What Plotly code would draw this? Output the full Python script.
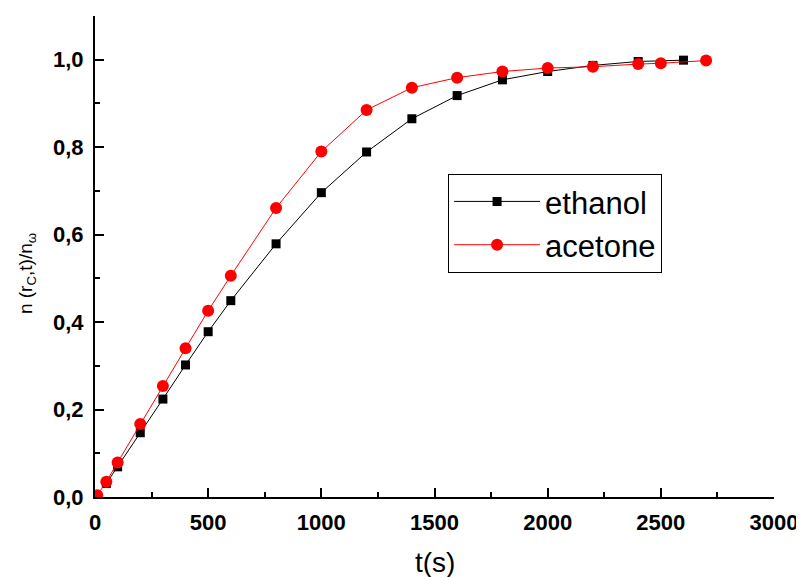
import plotly.graph_objects as go

# data
ethanol_t = [50, 100, 200, 300, 400, 500, 600, 800, 1000, 1200, 1400, 1600, 1800, 2000, 2200, 2400, 2600]
ethanol_n = [0.031, 0.069, 0.147, 0.224, 0.302, 0.378, 0.449, 0.579, 0.696, 0.789, 0.865, 0.918, 0.954, 0.973, 0.987, 0.996, 0.999]
acetone_t = [10, 50, 100, 200, 300, 400, 500, 600, 800, 1000, 1200, 1400, 1600, 1800, 2000, 2200, 2400, 2500, 2700]
acetone_n = [0.004, 0.035, 0.079, 0.167, 0.254, 0.340, 0.426, 0.506, 0.661, 0.790, 0.885, 0.936, 0.959, 0.973, 0.981, 0.984, 0.990, 0.992, 0.998]

x_ticks = [0, 500, 1000, 1500, 2000, 2500, 3000]
y_ticks = [0.0, 0.2, 0.4, 0.6, 0.8, 1.0]

FONT = "Liberation Sans, Arial, sans-serif"

fig = go.Figure()
fig.add_trace(go.Scatter(x=ethanol_t, y=ethanol_n, mode="lines+markers", name="ethanol",
                         line=dict(color="black", width=1),
                         marker=dict(symbol="square", size=9, color="black")))
fig.add_trace(go.Scatter(x=acetone_t, y=acetone_n, mode="lines+markers", name="acetone",
                         line=dict(color="red", width=1),
                         marker=dict(symbol="circle", size=12, color="red")))

# page body has an 8px margin, so the figure is shifted by (8, 8)
fig.update_layout(
    width=796, height=569,
    margin=dict(l=87, r=30, t=8, b=80),
    paper_bgcolor="white", plot_bgcolor="white",
    showlegend=True,
    legend=dict(x=0.52, y=0.672, xanchor="left", yanchor="top",
                bordercolor="black", borderwidth=1, bgcolor="white",
                font=dict(family=FONT, size=31, color="black"),
                tracegroupgap=0, itemwidth=86),
    font=dict(family=FONT, color="black"),
)
fig.update_xaxes(
    range=[0, 3000], tickvals=x_ticks, ticktext=[str(v) for v in x_ticks],
    automargin=False,
    showline=True, linecolor="black", linewidth=2, showgrid=False, zeroline=False,
    ticks="inside", ticklen=9, tickwidth=2, tickcolor="black",
    minor=dict(dtick=250, ticks="inside", ticklen=5, tickwidth=2, tickcolor="black"),
    tickfont=dict(family=FONT, size=22, color="black", weight="bold"),
    ticklabelstandoff=5,
)
fig.update_yaxes(
    range=[0, 1.1], tickvals=y_ticks, ticktext=[f"{v:.1f}".replace(".", ",") for v in y_ticks],
    automargin=False,
    showline=True, linecolor="black", linewidth=2, showgrid=False, zeroline=False,
    ticks="inside", ticklen=9, tickwidth=2, tickcolor="black",
    minor=dict(dtick=0.1, ticks="inside", ticklen=5, tickwidth=2, tickcolor="black"),
    tickfont=dict(family=FONT, size=22, color="black", weight="bold"),
    ticklabelstandoff=5,
)
fig.add_annotation(
    text="t(s)", xref="paper", yref="paper", x=0.5, y=-0.137,
    xanchor="center", yanchor="middle", showarrow=False,
    font=dict(family=FONT, size=28, color="black"),
)
fig.add_annotation(
    text="n (r<sub>C</sub>,t)/n<sub>ω</sub>", textangle=-90,
    xref="paper", yref="paper", x=-0.099, y=0.465, xanchor="center", yanchor="middle",
    showarrow=False, font=dict(family=FONT, size=19, color="black"),
)

fig.write_html("out.html")
